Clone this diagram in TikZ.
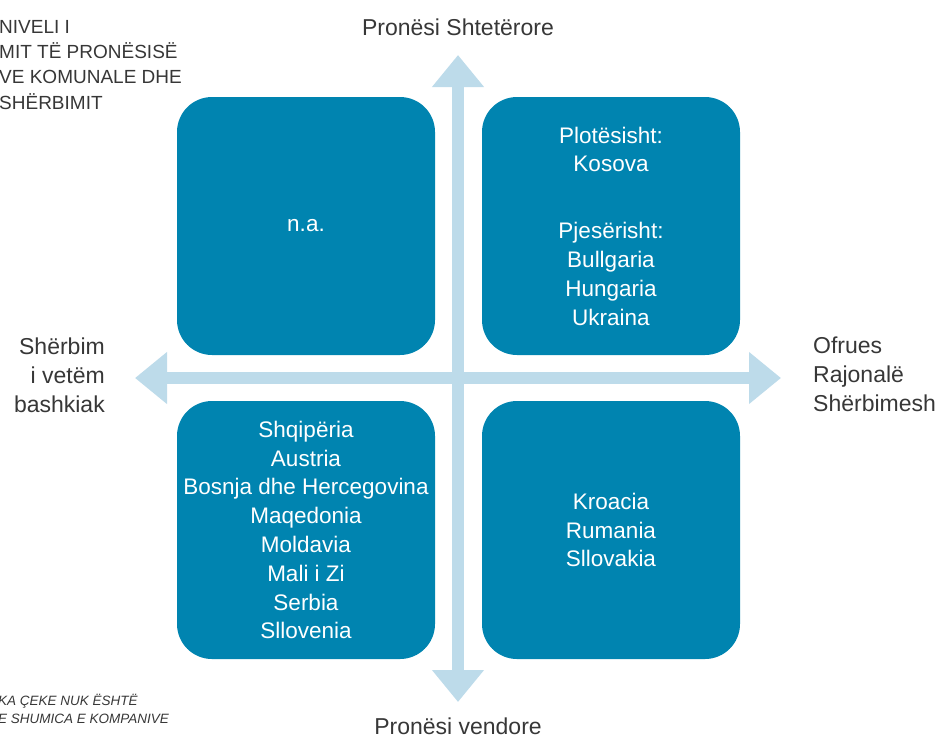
\documentclass[tikz,border=0pt]{standalone}
\usepackage{fontspec}
\setmainfont{Liberation Sans}
\usepackage{tikz}
\usetikzlibrary{arrows.meta}
\definecolor{boxblue}{RGB}{0,132,176}
\definecolor{axisblue}{RGB}{189,219,234}
\definecolor{labelgray}{RGB}{55,55,55}
\tikzset{
  quadrant/.style={fill=boxblue, rounded corners=35pt, minimum width=258pt, minimum height=258pt,
    text=white, align=center, inner sep=0pt, font=\fontsize{22.5}{28.8}\selectfont},
  axis/.style={draw=axisblue, line width=12pt,
    {Triangle[width=50pt,length=32pt]}-{Triangle[width=50pt,length=32pt]}},
  axislabel/.style={text=labelgray, inner sep=0pt, font=\fontsize{23}{29}\selectfont},
  headline/.style={text=labelgray, inner sep=0pt, anchor=base west, font=\fontsize{19}{25}\selectfont},
  footline/.style={text=labelgray, inner sep=0pt, anchor=base west, font=\fontsize{13.5}{18}\selectfont\itshape}
}

\begin{document}
\begin{tikzpicture}[x=1pt,y=-1pt]
\useasboundingbox (0,0) rectangle (939,740);
\coordinate (north) at (458,55);
\coordinate (south) at (458,702);
\coordinate (west) at (135,378);
\coordinate (east) at (781,378);
\draw[axis] (north) -- (south);
\draw[axis] (west) -- (east);
\node[quadrant] (tl) at (306,226) {n.a.};
\node[quadrant] (tr) at (611,226) {Plotësisht:\\Kosova\\[38pt]Pjesërisht:\\Bullgaria\\Hungaria\\Ukraina};
\node[quadrant] (bl) at (306,530) {Shqipëria\\Austria\\Bosnja dhe Hercegovina\\Maqedonia\\Moldavia\\Mali i Zi\\Serbia\\Sllovenia};
\node[quadrant] (br) at (611,530) {Kroacia\\Rumania\\Sllovakia};
\node[axislabel, anchor=base] (stateown) at (458,35) {Pronësi Shtetërore};
\node[axislabel, anchor=base] (localown) at (458,734) {Pronësi vendore};
\node[axislabel, anchor=east, align=right] (municipal) at (105,375) {Shërbim\\i vetëm\\bashkiak};
\node[axislabel, anchor=west, align=left] (regional) at (813,374) {Ofrues\\Rajonalë\\Shërbimesh};
\foreach \t [count=\i] in {NIVELI I, MIT TË PRONËSISË, VE KOMUNALE DHE, SHËRBIMIT}
  \node[headline] (head\i) at (-1,7.6+25.4*\i) {\t};
\foreach \t [count=\i] in {KA ÇEKE NUK ËSHTË, E SHUMICA E KOMPANIVE}
  \node[footline] (foot\i) at (-2,687+18*\i) {\t};
\end{tikzpicture}
\end{document}
